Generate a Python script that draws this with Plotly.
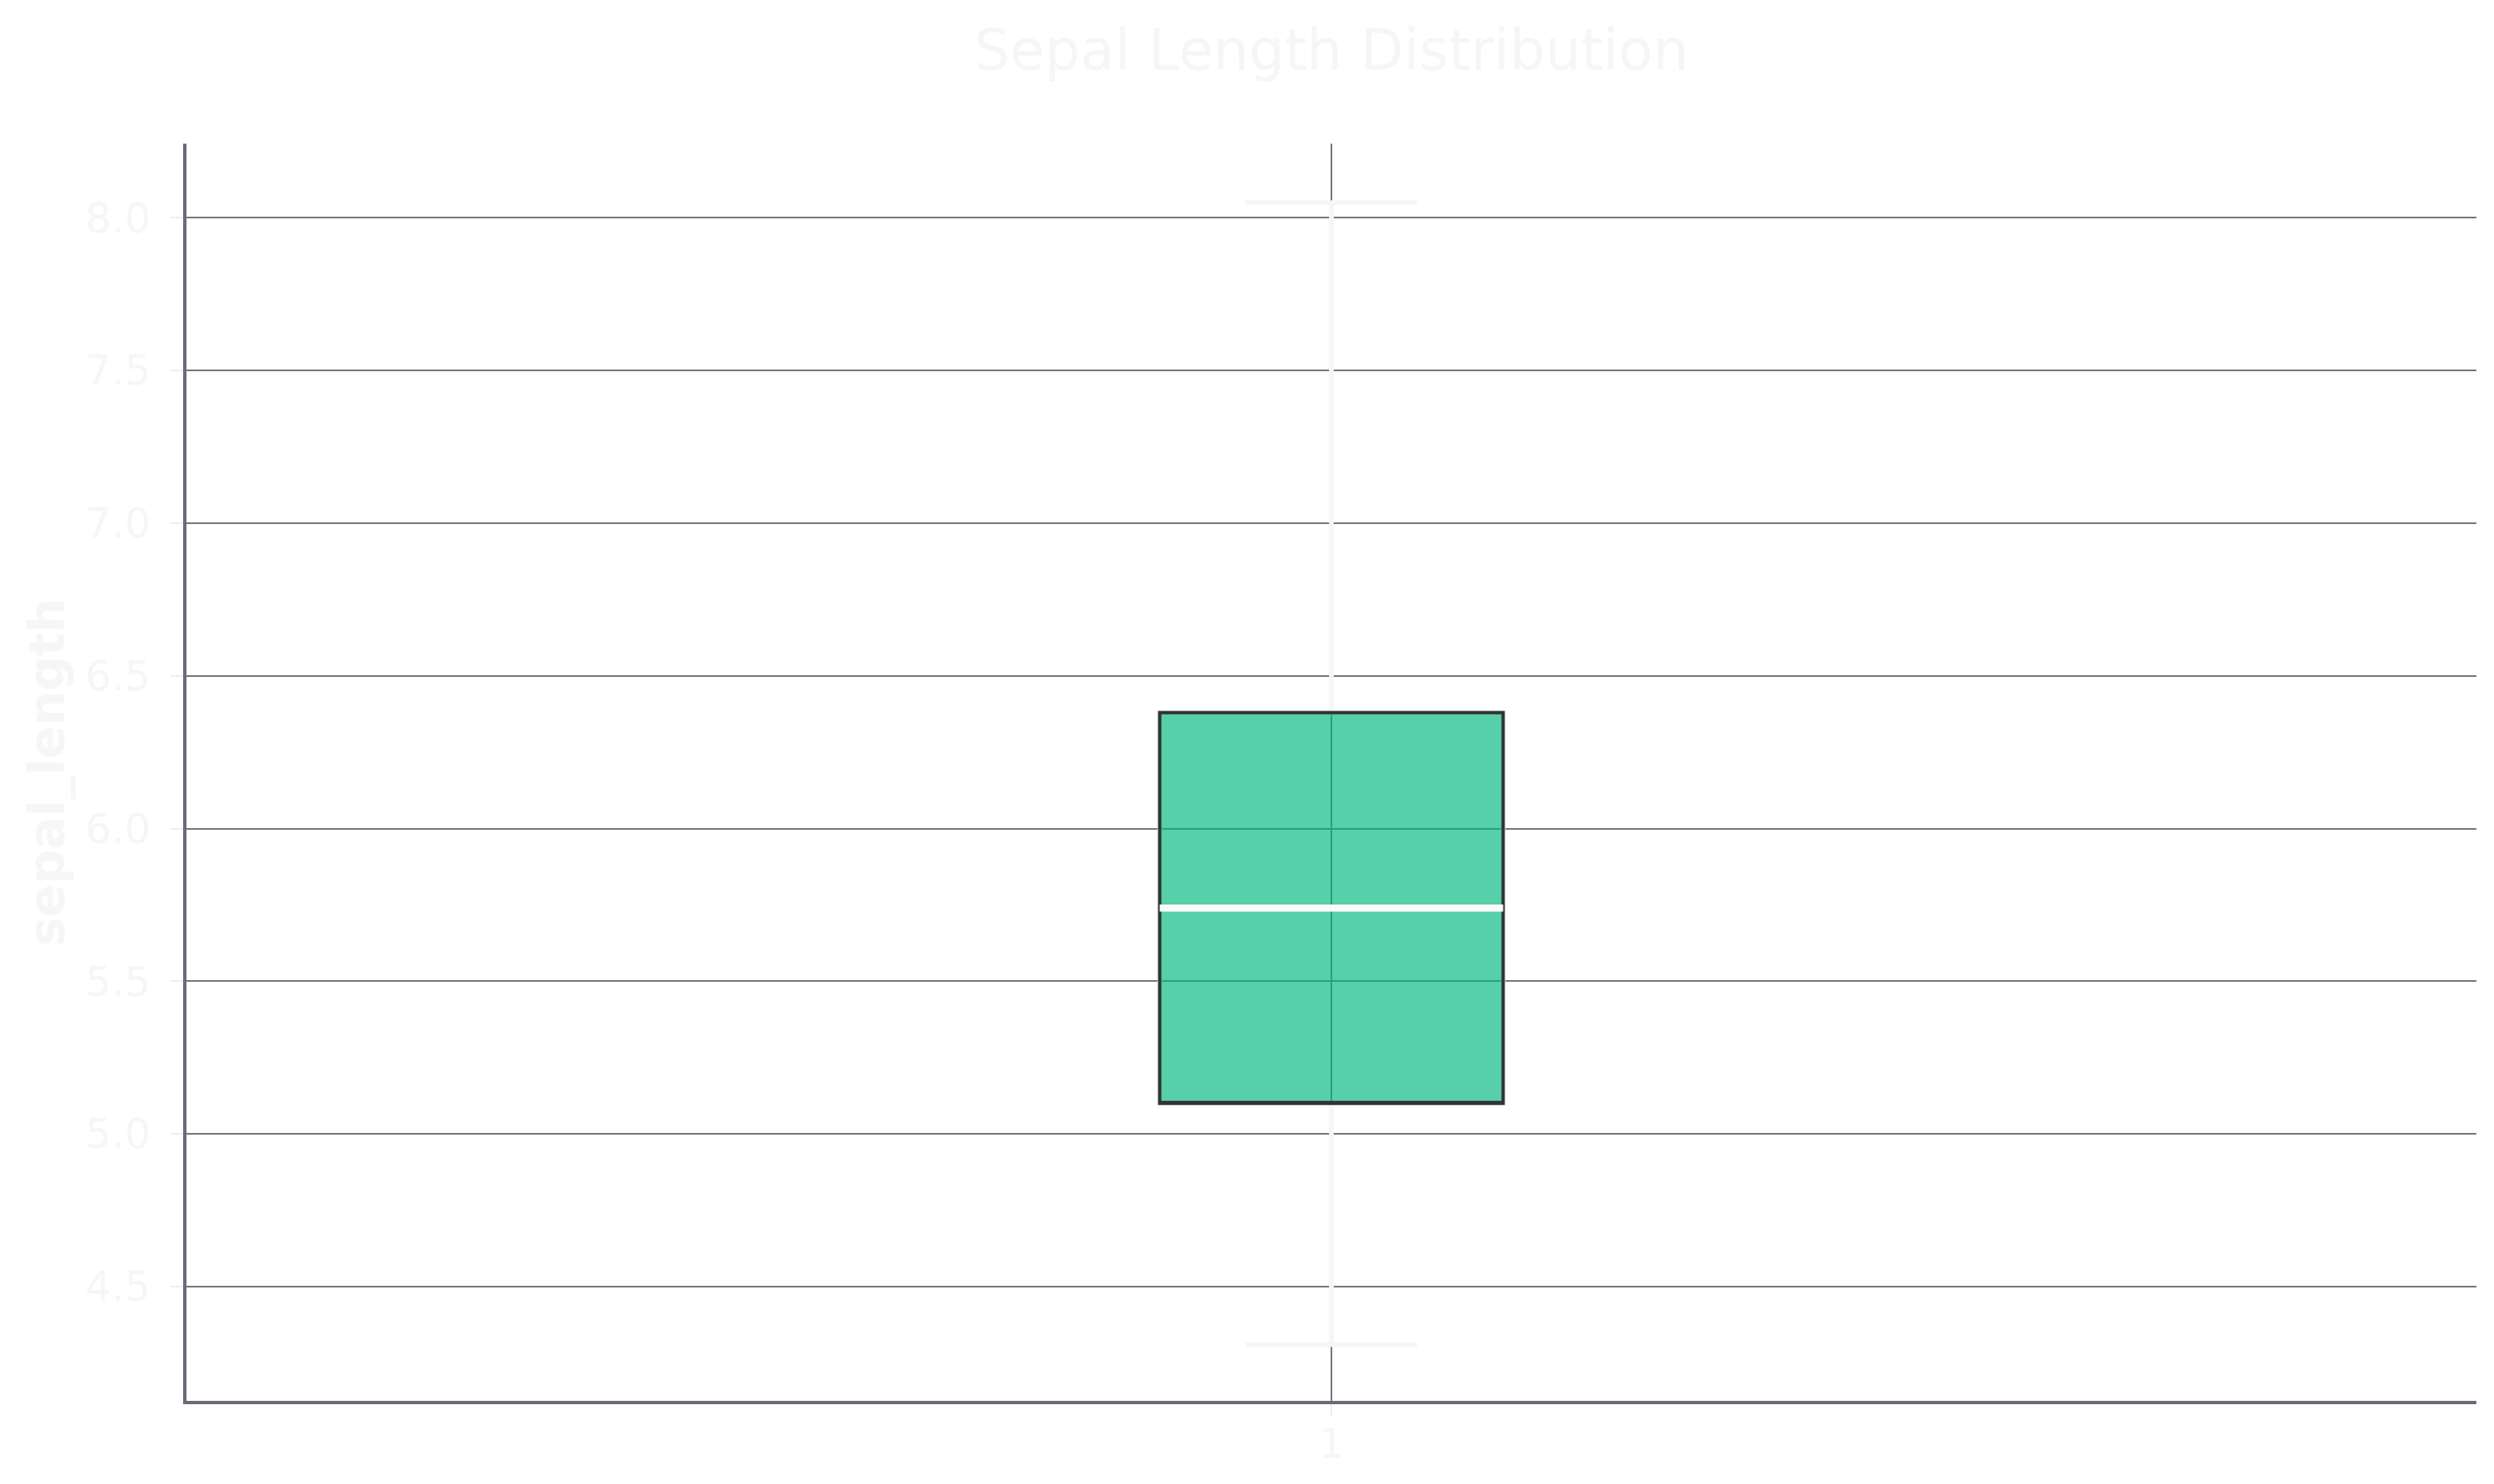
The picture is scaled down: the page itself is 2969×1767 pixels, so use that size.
import plotly.graph_objects as go

# summary stats
categories = [1]
lower_whisker = [4.31]
q1_values = [5.10]
medians = [5.74]
q3_values = [6.38]
upper_whisker = [8.05]

y_ticks = [4.5, 5.0, 5.5, 6.0, 6.5, 7.0, 7.5, 8.0]

LIGHT = "#f6f6f6"
FONT = "DejaVu Sans"

fig = go.Figure()

# whiskers + caps (near-white, like the source)
fig.add_trace(go.Box(
    x=categories, q1=q1_values, median=medians, q3=q3_values,
    lowerfence=lower_whisker, upperfence=upper_whisker,
    width=0.15, whiskerwidth=0.5,
    line=dict(color=LIGHT, width=5.5),
    fillcolor="rgba(0,0,0,0)",
    boxpoints=False, hoverinfo="skip", showlegend=False,
))

# the filled box with a dark edge (no whiskers)
fig.add_trace(go.Box(
    x=categories, q1=q1_values, median=q1_values, q3=q3_values,
    lowerfence=q1_values, upperfence=q3_values,
    width=0.15, whiskerwidth=0,
    line=dict(color="rgb(48,52,52)", width=4),
    fillcolor="rgba(0,182,123,0.66)",
    boxpoints=False, hoverinfo="skip", showlegend=False,
))

# median line drawn on top in white
fig.add_trace(go.Box(
    x=categories, q1=medians, median=medians, q3=medians,
    lowerfence=medians, upperfence=medians,
    width=0.15, whiskerwidth=0,
    line=dict(color="#fafafa", width=8.5),
    fillcolor="rgba(0,0,0,0)",
    boxpoints=False, hoverinfo="skip", showlegend=False,
))

fig.update_layout(
    width=2969, height=1767,
    margin=dict(l=214, r=29, t=163, b=107),
    paper_bgcolor="white", plot_bgcolor="white",
    boxmode="overlay",
    font=dict(family=FONT, color=LIGHT, size=49),
    title=dict(text="Sepal Length Distribution", x=0.5, xref="paper",
               xanchor="center", y=0.971, yanchor="middle",
               font=dict(family=FONT, size=67, color=LIGHT)),
)

fig.update_xaxes(
    range=[0.5, 1.5], tickvals=categories, ticktext=[str(c) for c in categories],
    showgrid=True, gridcolor="#777777", gridwidth=2.3,
    showline=True, linecolor="#6c6c78", linewidth=3.5, mirror=False,
    ticks="outside", ticklen=15, tickwidth=2, tickcolor="#eeeeee",
    ticklabelstandoff=-10,
    tickfont=dict(family=FONT, size=49, color=LIGHT),
    zeroline=False,
)

fig.update_yaxes(
    range=[4.126, 8.243], tickvals=y_ticks, tickformat=".1f",
    showgrid=True, gridcolor="#777777", gridwidth=2.3,
    showline=True, linecolor="#6c6c78", linewidth=3.5, mirror=False,
    ticks="outside", ticklen=15, tickwidth=2, tickcolor="#eeeeee",
    ticklabelstandoff=14,
    tickfont=dict(family=FONT, size=49, color=LIGHT),
    title=dict(text="<b>sepal_length</b>", standoff=7,
               font=dict(family=FONT, size=58, color=LIGHT)),
    zeroline=False,
)

fig.write_html("out.html")
